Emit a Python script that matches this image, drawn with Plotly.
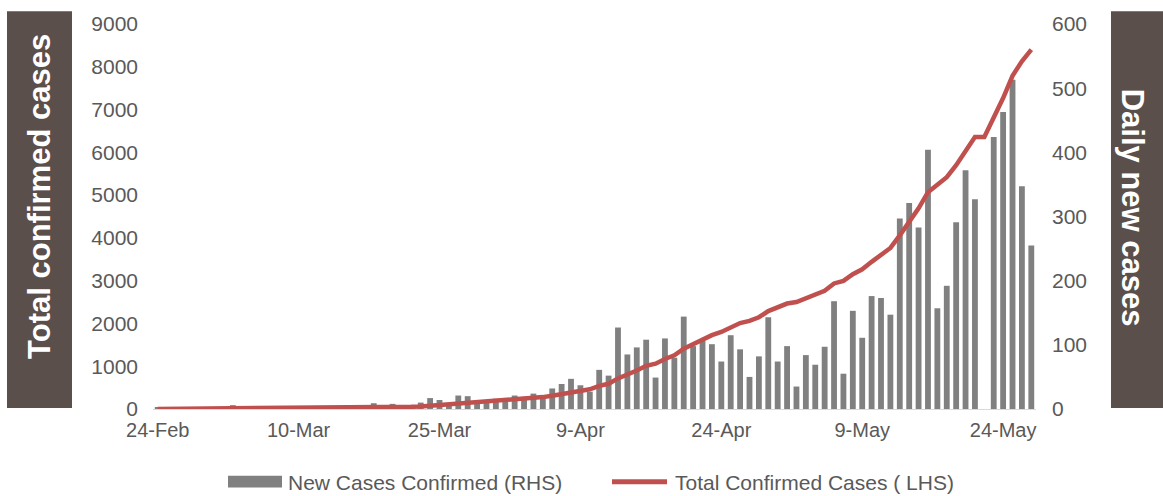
import pandas as pd
import plotly.graph_objects as go

# Daily confirmed COVID-19 cases, one value per day starting 24 Feb 2020
start_date = "2020-02-24"
new_cases = [
    2, 2, 0, 0, 0, 0, 0, 0, 6, 0,
    0, 0, 0, 1, 0, 0, 2, 0, 0, 0,
    1, 3, 2, 9, 6, 8, 4, 5, 10, 17,
    14, 6, 21, 20, 9, 14, 16, 17, 21, 19,
    24, 19, 32, 39, 47, 37, 27, 61, 52, 127,
    85, 96, 108, 49, 110, 80, 144, 98, 106, 101,
    74, 115, 93, 50, 82, 143, 74, 98, 35, 84,
    69, 97, 168, 55, 153, 111, 176, 173, 147, 297,
    321, 283, 404, 157, 192, 291, 372, 327, 0, 424,
    463, 513, 347, 255,
]
# Cumulative confirmed cases for the same days
total_cases = [
    2, 4, 4, 4, 4, 4, 4, 4, 10, 10,
    10, 10, 10, 11, 11, 11, 13, 13, 13, 13,
    14, 17, 19, 28, 34, 42, 46, 51, 61, 78,
    92, 98, 119, 139, 148, 162, 178, 195, 216, 235,
    259, 278, 310, 349, 396, 433, 460, 540, 590, 715,
    800, 900, 1010, 1060, 1170, 1255, 1410, 1515, 1620, 1725,
    1800, 1915, 2010, 2060, 2145, 2290, 2365, 2465, 2500, 2590,
    2665, 2765, 2935, 2995, 3150, 3265, 3440, 3615, 3765, 4060,
    4380, 4690, 5070, 5230, 5420, 5700, 6040, 6360, 6360, 6790,
    7270, 7790, 8130, 8400,
]
dates = pd.date_range(start_date, periods=len(new_cases), freq="D")

bar_name = "New Cases Confirmed (RHS)"
line_name = "Total Confirmed Cases ( LHS)"
left_title = "Total confirmed cases"
right_title = "Daily new cases"

BAR_COLOR = "#808080"
LINE_COLOR = "#C0504D"
BOX_COLOR = "#5B4F4B"
TEXT_COLOR = "#595959"
FONT = "Liberation Sans, Arial, sans-serif"

W, H = 1163, 496
L, R, T, B = 153, 1036, 17, 409  # plot area edges in pixels


def px(x):
    return (x - L) / (R - L)


def py(y):
    return (B - y) / (B - T)


fig = go.Figure()
fig.add_trace(go.Bar(
    x=dates, y=new_cases, name=bar_name, yaxis="y",
    marker=dict(color=BAR_COLOR, line=dict(width=0)),
    width=0.62 * 86400000,
))
fig.add_trace(go.Scatter(
    x=dates, y=total_cases, name=line_name, yaxis="y2", mode="lines",
    line=dict(color=LINE_COLOR, width=4.5, shape="linear"),
))

shapes = [
    # title boxes at both sides
    dict(type="rect", xref="paper", yref="paper", x0=px(7), x1=px(72), y0=py(408), y1=py(4),
         fillcolor=BOX_COLOR, line=dict(width=0), layer="below"),
    dict(type="rect", xref="paper", yref="paper", x0=px(1111), x1=px(1170), y0=py(408), y1=py(4),
         fillcolor=BOX_COLOR, line=dict(width=0), layer="below"),
    # legend keys
    dict(type="rect", xref="paper", yref="paper", x0=px(228), x1=px(282), y0=py(489), y1=py(477),
         fillcolor=BAR_COLOR, line=dict(width=0)),
    dict(type="line", xref="paper", yref="paper", x0=px(612), x1=px(667), y0=py(483), y1=py(483),
         line=dict(color=LINE_COLOR, width=5)),
]

annotations = [
    dict(text=left_title, xref="paper", yref="paper", x=px(40), y=py(192), showarrow=False,
         textangle=-90, font=dict(family=FONT, size=31, color="white", weight="bold"),
         xanchor="center", yanchor="middle"),
    dict(text=right_title, xref="paper", yref="paper", x=px(1132), y=py(204), showarrow=False,
         textangle=90, font=dict(family=FONT, size=31, color="white", weight="bold"),
         xanchor="center", yanchor="middle"),
    dict(text=bar_name, xref="paper", yref="paper", x=px(286), y=py(484), showarrow=False,
         xanchor="left", yanchor="middle", font=dict(family=FONT, size=21, color=TEXT_COLOR)),
    dict(text=line_name, xref="paper", yref="paper", x=px(673), y=py(484), showarrow=False,
         xanchor="left", yanchor="middle", font=dict(family=FONT, size=21, color=TEXT_COLOR)),
]

fig.update_layout(
    width=W, height=H,
    margin=dict(l=L, r=W - R, t=T, b=H - B, pad=0),
    paper_bgcolor="white", plot_bgcolor="white",
    showlegend=False,
    font=dict(family=FONT, size=20, color=TEXT_COLOR),
    xaxis=dict(
        type="date",
        range=[pd.Timestamp(start_date) - pd.Timedelta(hours=12),
               dates[-1] + pd.Timedelta(hours=12)],
        tick0=start_date, dtick=15 * 86400000, tickformat="%-d-%b",
        showgrid=False, showline=True, linecolor="#D9D9D9", linewidth=1,
        ticks="", ticklabelstandoff=3, zeroline=False,
        tickfont=dict(family=FONT, size=20, color=TEXT_COLOR),
    ),
    yaxis=dict(
        side="right", range=[0, 600], dtick=100, showgrid=False, zeroline=False,
        ticks="", ticklabelstandoff=15,
        tickfont=dict(family=FONT, size=21, color=TEXT_COLOR),
    ),
    yaxis2=dict(
        side="left", overlaying="y", range=[0, 9000], dtick=1000, showgrid=False,
        zeroline=False, ticks="", ticklabelstandoff=14,
        tickfont=dict(family=FONT, size=21, color=TEXT_COLOR),
    ),
    shapes=shapes,
    annotations=annotations,
)

fig.write_html("out.html")
